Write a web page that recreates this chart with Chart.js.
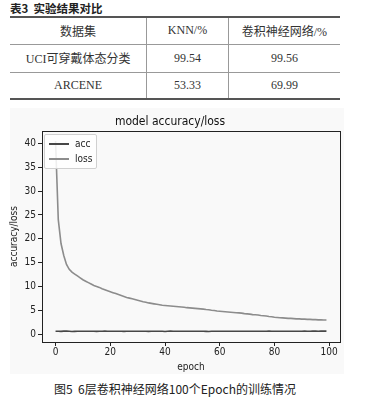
<!DOCTYPE html>
<html>
<head>
<meta charset="utf-8">
<script src="https://cdn.jsdelivr.net/npm/chart.js@4.4.1/dist/chart.umd.min.js"></script>
<style>
  body { margin: 0; width: 367px; height: 397px; background: #fff; position: relative; overflow: hidden;
         font-family: "Liberation Sans", "Noto Sans CJK SC", sans-serif; color: #222; }
  #tbl-title { position: absolute; left: 10px; top: 0; font: bold 11.5px "Noto Sans CJK SC", sans-serif; line-height: 16px; color: #222; }
  #tbl { position: absolute; left: 10px; top: 16px; width: 330px; border-collapse: collapse;
         font: 12px "Liberation Serif", "Noto Sans CJK SC", serif; color: #333; }
  #tbl td { text-align: center; padding: 0; border-left: 1px solid #999; border-bottom: 1px solid #999; }
  #tbl td:first-child { border-left: none; }
  #tbl tr:first-child td { border-top: 2px solid #555; }
  #tbl tr:last-child td { border-bottom: 2px solid #555; }
  #fig-bg { position: absolute; left: 10px; top: 108px; width: 334px; height: 266px; background: #f9f9f9; }
  #chart-wrap { position: absolute; left: 0; top: 105px; width: 367px; height: 272px; }
  #legend { position: absolute; left: 44px; top: 134px; width: 51px; height: 33px; border: 1px solid #d0d0d0;
            border-radius: 2px; background: rgba(255,255,255,0.85); font: 10px "DejaVu Sans Condensed", "Liberation Sans", sans-serif; }
  .lg-item { position: absolute; left: 4px; height: 14px; line-height: 14px; color: #222; }
  .lg-line { display: inline-block; width: 20px; height: 2px; vertical-align: middle; margin-right: 6px; }
  #caption { position: absolute; left: 0; width: 350px; top: 381px; text-align: center;
             font: 12px "Noto Sans CJK SC", sans-serif; line-height: 16px; color: #222; }
</style>
</head>
<body>
<div id="tbl-title">表3&nbsp; 实验结果对比</div>
<table id="tbl"></table>
<div id="fig-bg"></div>
<div id="chart-wrap"><canvas id="lossChart"></canvas></div>
<div id="legend"></div>
<div id="caption">图5&nbsp; 6层卷积神经网络100个Epoch的训练情况</div>

<script>
// Table contents
const tableHeader = ['数据集', 'KNN/%', '卷积神经网络/%'];
const tableRows = [
  ['UCI可穿戴体态分类', '99.54', '99.56'],
  ['ARCENE', '53.33', '69.99']
];

// Training history (100 epochs)
const lossValues = [
  40.5, 24.0, 19.0, 16.5, 14.6, 13.6, 13.0, 12.6, 12.2, 11.8,
  11.4, 11.1, 10.8, 10.5, 10.2, 10.0, 9.8, 9.5, 9.3, 9.1,
  8.9, 8.7, 8.5, 8.3, 8.1, 7.9, 7.7, 7.55, 7.4, 7.25,
  7.1, 6.95, 6.8, 6.7, 6.55, 6.45, 6.35, 6.25, 6.15, 6.05,
  6.0, 5.95, 5.9, 5.85, 5.8, 5.75, 5.7, 5.65, 5.55, 5.5,
  5.45, 5.4, 5.35, 5.3, 5.25, 5.15, 5.1, 5.0, 4.95, 4.85,
  4.8, 4.75, 4.7, 4.65, 4.6, 4.55, 4.5, 4.45, 4.4, 4.3,
  4.25, 4.2, 4.1, 4.05, 4.0, 3.9, 3.85, 3.8, 3.7, 3.65,
  3.55, 3.5, 3.45, 3.4, 3.35, 3.3, 3.3, 3.25, 3.2, 3.2,
  3.15, 3.15, 3.1, 3.1, 3.05, 3.05, 3.0, 3.0, 2.95, 2.95
];
const accValues = [
  0.62, 0.60, 0.58, 0.63, 0.66, 0.60, 0.55, 0.57, 0.60, 0.62,
  0.61, 0.59, 0.60, 0.62, 0.60, 0.58, 0.60, 0.61, 0.63, 0.60,
  0.59, 0.60, 0.62, 0.61, 0.60, 0.58, 0.60, 0.62, 0.61, 0.60,
  0.59, 0.61, 0.62, 0.60, 0.58, 0.60, 0.61, 0.60, 0.62, 0.61,
  0.55, 0.60, 0.63, 0.62, 0.60, 0.59, 0.61, 0.60, 0.62, 0.60,
  0.59, 0.60, 0.61, 0.62, 0.60, 0.58, 0.56, 0.59, 0.61, 0.60,
  0.62, 0.61, 0.60, 0.59, 0.60, 0.61, 0.62, 0.60, 0.59, 0.60,
  0.61, 0.60, 0.62, 0.61, 0.60, 0.59, 0.60, 0.62, 0.63, 0.61,
  0.60, 0.59, 0.61, 0.60, 0.62, 0.61, 0.60, 0.62, 0.61, 0.60,
  0.62, 0.63, 0.61, 0.62, 0.64, 0.63, 0.62, 0.64, 0.65, 0.64
];
const epochs = lossValues.map((_, i) => i);

const xTicks = [0, 20, 40, 60, 80, 100];
const yTicks = [0, 5, 10, 15, 20, 25, 30, 35, 40];

// Build the comparison table
function renderTable() {
  const tbl = document.getElementById('tbl');
  const widths = [137, 81, 112];
  const heights = [27, 28, 27];
  const rows = [tableHeader].concat(tableRows);
  tbl.innerHTML = rows.map((row, r) => `
    <tr style="height:${heights[r]}px">
      ${row.map((cell, c) => `<td style="width:${widths[c]}px">${cell}</td>`).join('')}
    </tr>`).join('');
}

// Axes frame, like matplotlib's box
const framePlugin = {
  id: 'frame',
  afterDraw(chart) {
    const { ctx, chartArea: a } = chart;
    ctx.save();
    ctx.strokeStyle = '#222';
    ctx.lineWidth = 1;
    ctx.strokeRect(Math.round(a.left) + 0.5, Math.round(a.top) + 0.5,
      Math.round(a.right - a.left), Math.round(a.bottom - a.top));
    ctx.restore();
  }
};

function renderLegend(chart) {
  const box = document.getElementById('legend');
  box.innerHTML = chart.data.datasets.map((ds, i) => `
    <div class="lg-item" style="top:${2 + i * 15}px">
      <span class="lg-line" style="background:${ds.borderColor}"></span>${ds.label}
    </div>`).join('');
}

const tickFont = { family: '"DejaVu Sans Condensed", "Liberation Sans", sans-serif', size: 10 };

function buildChart() {
  const ctx = document.getElementById('lossChart').getContext('2d');
  const chart = new Chart(ctx, {
    type: 'line',
    data: {
      labels: epochs,
      datasets: [
        { label: 'acc', data: accValues, borderColor: '#474747', borderWidth: 1.6, pointRadius: 0, tension: 0 },
        { label: 'loss', data: lossValues, borderColor: '#8c8c8c', borderWidth: 1.6, pointRadius: 0, tension: 0 }
      ]
    },
    options: {
      responsive: true,
      maintainAspectRatio: false,
      animation: false,
      layout: { padding: { left: 0, right: 27, top: 0, bottom: 0 } },
      plugins: {
        legend: { display: false },
        tooltip: { enabled: false },
        title: {
          display: true,
          text: 'model accuracy/loss',
          color: '#111',
          font: { family: '"DejaVu Sans Condensed", "Liberation Sans", sans-serif', size: 12, weight: 'normal' },
          padding: { top: 10, bottom: 1.6 }
        }
      },
      scales: {
        x: {
          type: 'linear',
          min: -4.95,
          max: 103.95,
          border: { display: false },
          grid: { drawOnChartArea: false, drawTicks: true, tickLength: 4, color: '#222' },
          ticks: { color: '#222', font: tickFont, padding: 0, includeBounds: false, maxRotation: 0 },
          afterBuildTicks: s => { s.ticks = xTicks.map(v => ({ value: v })); },
          afterFit: s => { s.height = 35; },
          title: { display: true, text: 'epoch', color: '#222', font: tickFont, padding: { top: 0, bottom: 4 } }
        },
        y: {
          min: -1.65,
          max: 42.6,
          border: { display: false },
          grid: { drawOnChartArea: false, drawTicks: true, tickLength: 4, color: '#222' },
          ticks: { color: '#222', font: tickFont, padding: 2, includeBounds: false },
          afterBuildTicks: s => { s.ticks = yTicks.map(v => ({ value: v })); },
          afterFit: s => { s.width = 42; },
          title: { display: true, text: 'accuracy/loss', color: '#222', font: tickFont, padding: { top: 8, bottom: 0 } }
        }
      }
    },
    plugins: [framePlugin]
  });
  renderLegend(chart);
}

renderTable();
buildChart();
</script>
</body>
</html>
